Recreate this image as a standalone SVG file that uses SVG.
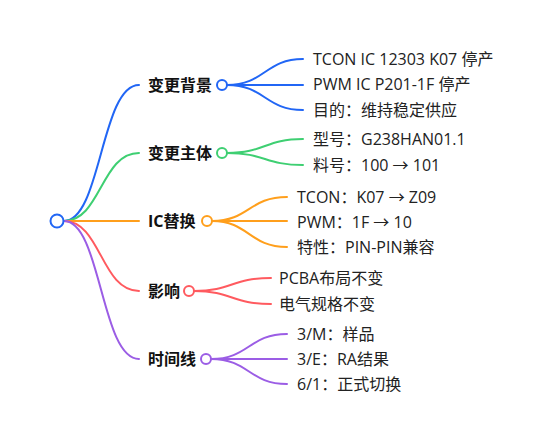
<svg xmlns="http://www.w3.org/2000/svg" width="553" height="444" viewBox="0 0 553 444">
<style>
.e{fill:none;stroke-width:2;stroke-linecap:round}
.c{fill:#fff;stroke-width:2}
.b{font-family:"Open Sans","Noto Sans CJK SC",sans-serif;font-size:16px;font-weight:bold;fill:#111;dominant-baseline:central}
.l{font-family:"Open Sans","Noto Sans CJK SC",sans-serif;font-size:16px;fill:#222;dominant-baseline:central}
.blue{stroke:#2166f5}.green{stroke:#3ecf72}.orange{stroke:#ff9f1c}.red{stroke:#ff5a5f}.purple{stroke:#9b5de5}
</style>
<rect width="553" height="444" fill="#fff"/>
<g id="connectors">
<path class="e blue" d="M64,221 C101,221 101,85 139,85"/>
<path class="e green" d="M64,221 C101,221 101,153 139,153"/>
<path class="e orange" d="M64,221 L139,221"/>
<path class="e red" d="M64,221 C101,221 101,291 139,291"/>
<path class="e purple" d="M64,221 C101,221 101,359 139,359"/>
<path class="e blue" d="M227,85 C265,85 265,59 303,59"/>
<path class="e blue" d="M227,85 L303,85"/>
<path class="e blue" d="M227,85 C265,85 265,110 303,110"/>
<path class="e green" d="M227,153 C265,153 265,139 303,139"/>
<path class="e green" d="M227,153 C265,153 265,165 303,165"/>
<path class="e orange" d="M212,221 C249,221 249,197 287,197"/>
<path class="e orange" d="M212,221 L287,221"/>
<path class="e orange" d="M212,221 C249,221 249,247 287,247"/>
<path class="e red" d="M194,291 C232,291 232,278 271,278"/>
<path class="e red" d="M194,291 C232,291 232,304 271,304"/>
<path class="e purple" d="M211,359 C249,359 249,334 287,334"/>
<path class="e purple" d="M211,359 L287,359"/>
<path class="e purple" d="M211,359 C249,359 249,384 287,384"/>
</g>
<g id="root"><circle class="c blue" cx="57" cy="221" r="6.5"/></g>
<g id="n1"><text class="b" x="148" y="85">变更背景</text><circle class="c blue" cx="222" cy="85" r="5"/></g>
<g id="n2"><text class="b" x="148" y="153">变更主体</text><circle class="c green" cx="222" cy="153" r="5"/></g>
<g id="n3"><text class="b" x="148" y="221">IC替换</text><circle class="c orange" cx="207" cy="221" r="5"/></g>
<g id="n4"><text class="b" x="148" y="291">影响</text><circle class="c red" cx="189" cy="291" r="5"/></g>
<g id="n5"><text class="b" x="148" y="359">时间线</text><circle class="c purple" cx="206" cy="359" r="5"/></g>
<g id="n1a"><text class="l" x="313" y="59">TCON IC 12303 K07 停产</text></g>
<g id="n1b"><text class="l" x="313" y="84">PWM IC P201-1F 停产</text></g>
<g id="n1c"><text class="l" x="313" y="110">目的：维持稳定供应</text></g>
<g id="n2a"><text class="l" x="313" y="139">型号：G238HAN01.1</text></g>
<g id="n2b"><text class="l" x="313" y="165">料号：100 → 101</text></g>
<g id="n3a"><text class="l" x="297" y="197">TCON：K07 → Z09</text></g>
<g id="n3b"><text class="l" x="297" y="222">PWM：1F → 10</text></g>
<g id="n3c"><text class="l" x="297" y="247">特性：PIN-PIN兼容</text></g>
<g id="n4a"><text class="l" x="279" y="278">PCBA布局不变</text></g>
<g id="n4b"><text class="l" x="279" y="304">电气规格不变</text></g>
<g id="n5a"><text class="l" x="297" y="334">3/M：样品</text></g>
<g id="n5b"><text class="l" x="297" y="359">3/E：RA结果</text></g>
<g id="n5c"><text class="l" x="297" y="384">6/1：正式切换</text></g>
</svg>
